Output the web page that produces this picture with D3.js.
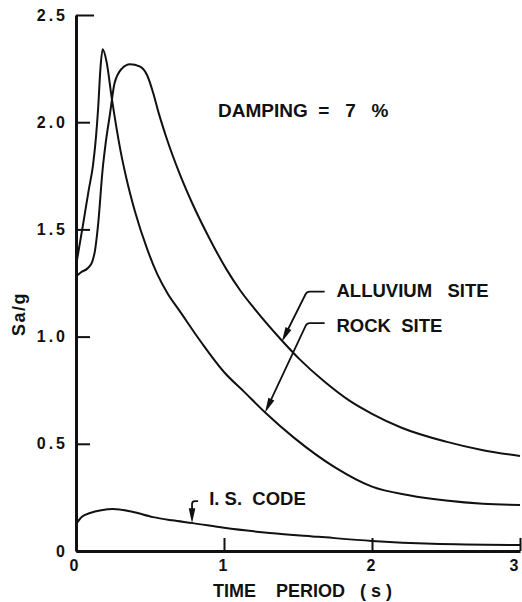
<!DOCTYPE html>
<meta charset="utf-8">
<style>
    body{ margin:0; background:#fff; }
    svg{ display:block; font-family:"Liberation Sans", Arial, sans-serif; font-weight:bold; }
    .tick text{ font-size:16px; letter-spacing:3px; fill:#111; }
    .lbl{ font-size:18.5px; fill:#111; white-space:pre; }
</style>
<script src="https://d3js.org/d3.v7.min.js"></script>
<body>
<div id="chart"></div>
<script>
    // (T in seconds, Sa/g)
    var alluviumT  = [0, 0.034, 0.081, 0.11, 0.128, 0.149, 0.18, 0.2, 0.23, 0.26, 0.31, 0.365, 0.43, 0.48, 0.52, 0.56, 0.61, 0.70, 0.78, 0.9, 1.02, 1.11, 1.2, 1.38, 1.51, 1.67, 1.85, 2.0, 2.2, 2.5, 2.75, 3.0];
    var alluviumSa = [1.28, 1.30, 1.32, 1.35, 1.40, 1.52, 1.78, 1.90, 2.04, 2.18, 2.25, 2.27, 2.26, 2.22, 2.14, 2.04, 1.93, 1.76, 1.63, 1.46, 1.31, 1.215, 1.135, 0.99, 0.895, 0.795, 0.70, 0.64, 0.575, 0.51, 0.47, 0.443];

    var rockT  = [0, 0.047, 0.085, 0.115, 0.135, 0.15, 0.165, 0.18, 0.207, 0.24, 0.30, 0.34, 0.40, 0.48, 0.55, 0.62, 0.70, 0.85, 1.0, 1.14, 1.28, 1.47, 1.75, 2.0, 2.25, 2.5, 2.75, 3.0];
    var rockSa = [1.33, 1.52, 1.68, 1.80, 1.93, 2.07, 2.25, 2.34, 2.28, 2.12, 1.87, 1.74, 1.58, 1.41, 1.29, 1.20, 1.12, 0.97, 0.835, 0.74, 0.645, 0.53, 0.39, 0.30, 0.26, 0.235, 0.22, 0.215];

    var codeT  = [0, 0.04, 0.095, 0.17, 0.25, 0.38, 0.52, 0.65, 0.79, 1.0, 1.31, 1.64, 2.0, 2.41, 3.0];
    var codeSa = [0.125, 0.16, 0.177, 0.19, 0.196, 0.183, 0.158, 0.143, 0.13, 0.108, 0.084, 0.066, 0.047, 0.034, 0.028];

    var xTicks = [0, 1, 2, 3];
    var yTicks = [0, 0.5, 1.0, 1.5, 2.0, 2.5];

    var width = 522, height = 602;
    var margin = {top: 15, right: 2, bottom: 51, left: 76};

    var svg = d3.select("#chart").append("svg")
        .attr("width", width)
        .attr("height", height)
        .style("background-color", "white");

    var x = d3.scaleLinear().domain([0, 3]).range([margin.left, width - margin.right]);
    var y = d3.scaleLinear().domain([0, 2.5]).range([height - margin.bottom, margin.top]);

    var line = d3.line()
        .x(function(d){ return x(d[0]); })
        .y(function(d){ return y(d[1]); })
        .curve(d3.curveMonotoneX);

    function pairs(t, v){ return t.map(function(d, i){ return [d, v[i]]; }); }

    [pairs(alluviumT, alluviumSa), pairs(rockT, rockSa), pairs(codeT, codeSa)].forEach(function(s){
        svg.append("path")
           .attr("d", line(s))
           .attr("fill", "none")
           .attr("stroke", "#111")
           .attr("stroke-width", 2);
    });

    // axes, ticks pointing inward
    var gx = svg.append("g")
        .attr("transform", "translate(0," + y(0) + ")")
        .call(d3.axisBottom(x).tickValues(xTicks).tickSize(-13).tickSizeOuter(0).tickPadding(9)
              .tickFormat(d3.format("d")));
    var gy = svg.append("g")
        .attr("transform", "translate(" + x(0) + ",0)")
        .call(d3.axisLeft(y).tickValues(yTicks).tickSize(-14).tickSizeOuter(0).tickPadding(8)
              .tickFormat(function(d){ return d === 0 ? "0" : d.toFixed(1); }));

    gx.select(".domain").attr("stroke", "#111").attr("stroke-width", 3);
    gy.select(".domain").attr("stroke", "#111").attr("stroke-width", 3);
    svg.selectAll(".tick line").attr("stroke", "#111").attr("stroke-width", 2);
    svg.selectAll(".tick text").attr("font-family", null).attr("font-size", null);
    gy.selectAll(".tick line").filter(function(d){ return d === 2.5; }).attr("x2", 18);
    gx.selectAll(".tick text").filter(function(d){ return d === 3; })
        .attr("text-anchor", "end").attr("dx", 1);
    gx.selectAll(".tick text").filter(function(d){ return d === 0; }).attr("dx", -1);

    // axis titles
    svg.append("text").attr("class", "lbl")
        .attr("x", 213).attr("y", 597)
        .style("font-size", "18px")
        .text("TIME    PERIOD   ( s )");
    svg.append("text").attr("class", "lbl")
        .attr("transform", "translate(25," + 314 + ") rotate(-90)")
        .attr("text-anchor", "middle")
        .style("font-size", "18px").style("letter-spacing", "1.5px")
        .text("Sa/g");

    svg.append("text").attr("class", "lbl")
        .attr("x", 218).attr("y", 117)
        .style("font-size", "19px")
        .text("DAMPING  =   7   %");

    // leader arrows: tip on the curve, elbow, end of the short horizontal, text anchor
    var notes = [
        {text: "ALLUVIUM   SITE", tip: [1.39, 0.975], elbow: [1.56, 1.21], end: 1.68, at: [1.76, 1.185]},
        {text: "ROCK  SITE",      tip: [1.277, 0.645], elbow: [1.56, 1.063], end: 1.68, at: [1.76, 1.02]},
        {text: "I. S.  CODE",     tip: [0.784, 0.13], elbow: [0.784, 0.233], end: 0.825, at: [0.90, 0.215]}
    ];

    notes.forEach(function(n){
        var tx = x(n.tip[0]), ty = y(n.tip[1]);
        var ex = x(n.elbow[0]), ey = y(n.elbow[1]);
        var hx = x(n.end);
        var dx = ex - tx, dy = ey - ty, len = Math.sqrt(dx*dx + dy*dy);
        var ux = dx/len, uy = dy/len;
        var p = d3.path();
        p.moveTo(tx + ux*10, ty + uy*10);
        p.lineTo(ex - ux*3, ey - uy*3);
        p.quadraticCurveTo(ex, ey, ex + 3, ey);
        p.lineTo(hx, ey);
        svg.append("path").attr("d", p.toString())
           .attr("fill", "none").attr("stroke", "#111").attr("stroke-width", 1.8);
        // arrow head
        var L = 15, w = 3.3;
        var bx = tx + ux*L, by = ty + uy*L;
        svg.append("path")
           .attr("d", "M" + tx + "," + ty + "L" + (bx - uy*w) + "," + (by + ux*w) + "L" + (bx + uy*w) + "," + (by - ux*w) + "Z")
           .attr("fill", "#111");
        svg.append("text").attr("class", "lbl")
           .attr("x", x(n.at[0])).attr("y", y(n.at[1]))
           .text(n.text);
    });
</script>
</body>
